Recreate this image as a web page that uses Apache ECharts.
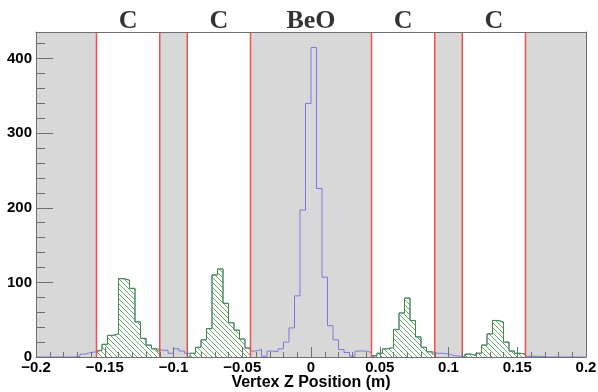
<!DOCTYPE html>
<html>
<head>
<meta charset="utf-8">
<script src="https://cdn.jsdelivr.net/npm/echarts@6/dist/echarts.min.js"></script>
<style>
  html, body { margin: 0; padding: 0; background: #fff; }
  #chart { width: 598px; height: 392px; }
</style>
</head>
<body>
<div id="chart"></div>
<script>
// Histogram binning: 100 bins of 4 mm covering -0.2 m .. 0.2 m
const binLow = -0.2;
const binWidth = 0.004;

// All reconstructed vertices, counts per bin (bin 0 starts at -0.2 m)
const allCounts = [
  0, 0, 0, 0, 0, 0, 0, 1, 4, 6,
  7, 9, 17, 29, 31, 105, 103, 92, 47, 25,
  16, 11, 9, 9, 5, 11, 8, 5, 5, 13,
  23, 38, 110, 118, 72, 46, 36, 24, 12, 8,
  10, 1, 8, 7, 11, 20, 39, 82, 197, 340,
  415, 226, 107, 42, 23, 10, 6, 1, 8, 8,
  6, 2, 5, 11, 13, 37, 59, 79, 49, 27,
  13, 7, 5, 5, 4, 2, 1, 1, 4, 2,
  5, 16, 31, 49, 47, 20, 8, 5, 4, 1,
  1, 1, 0, 0, 0, 0, 0, 0, 0, 0
];

// Vertices inside each carbon target, counts per bin
const carbon1Counts = [9, 17, 29, 31, 105, 103, 92, 47, 25, 16, 11, 8];
const carbon2Counts = [0, 5, 13, 23, 38, 110, 118, 72, 46, 36, 24, 12];
const carbon3Counts = [2, 5, 11, 13, 37, 59, 79, 49, 27, 13, 7, 4];
const carbon4Counts = [0, 4, 2, 5, 16, 31, 49, 47, 20, 8, 5, 4];
// index of the first bin of each carbon histogram
const carbonFirstBin = [11, 27, 61, 77];

// Target extents along z (m)
const carbonTargets = [[-0.156, -0.110], [-0.090, -0.044], [0.044, 0.090], [0.110, 0.156]];
const beoTarget = [-0.044, 0.044];
const carbonLabel = 'C';
const beoLabel = 'BeO';

// Axis ticks and labels
const xTickValues = [-0.2, -0.15, -0.1, -0.05, 0, 0.05, 0.1, 0.15, 0.2];
const xTickLabels = ['\u22120.2', '\u22120.15', '\u22120.1', '\u22120.05', '0', '0.05', '0.1', '0.15', '0.2'];
const yTickValues = [0, 100, 200, 300, 400];
const yMinorValues = [20, 40, 60, 80, 120, 140, 160, 180, 220, 240, 260, 280, 320, 340, 360, 380, 420];
const xTitle = 'Vertex Z Position (m)';

const r6 = v => Math.round(v * 1e6) / 1e6;
const binEdge = i => r6(binLow + i * binWidth);
const xHigh = binEdge(allCounts.length);

// step outline of the full histogram
function fullOutline(counts) {
  const pts = [[binEdge(0), 0]];
  counts.forEach((c, i) => pts.push([binEdge(i), c]));
  pts.push([xHigh, counts[counts.length - 1]]);
  pts.push([xHigh, 0]);
  return pts;
}

// step outline of a target histogram, cut at the target edges
function targetOutline(counts, first, range) {
  const [a, b] = range;
  const pts = [[a, 0]];
  counts.forEach((c, j) => pts.push([Math.max(binEdge(first + j), a), c]));
  pts.push([b, counts[counts.length - 1]]);
  pts.push([b, 0]);
  return pts;
}

// diagonal hatch fill
function hatchPattern(color, size) {
  const c = document.createElement('canvas');
  c.width = size; c.height = size;
  const g = c.getContext('2d');
  g.strokeStyle = color;
  g.lineWidth = 1;
  g.beginPath();
  g.moveTo(-1, -1); g.lineTo(size + 1, size + 1);
  g.moveTo(-1, size - 1); g.lineTo(1, size + 1);
  g.moveTo(size - 1, -1); g.lineTo(size + 1, 1);
  g.stroke();
  return c;
}

const gray = '#d8d8d8';
const frameColor = '#6f6f6f';
const sans = 'Liberation Sans, Arial, sans-serif';
const serif = 'Liberation Serif, Times New Roman, serif';
const yMax = Math.max(...allCounts) * 1.05;

const series = [];

// shaded gaps outside the targets
const edges = [binLow, carbonTargets[0][0], carbonTargets[0][1], carbonTargets[1][0],
  carbonTargets[1][1], carbonTargets[2][0], carbonTargets[2][1], carbonTargets[3][0],
  carbonTargets[3][1], xHigh];
const gaps = [];
for (let i = 0; i < edges.length - 1; i += 2) gaps.push([edges[i], edges[i + 1]]);
series.push({
  type: 'custom', silent: true, z: 1, clip: true,
  data: gaps,
  encode: { x: [0, 1] },
  renderItem: (params, api) => {
    const p0 = api.coord([api.value(0), yMax]);
    const p1 = api.coord([api.value(1), 0]);
    return { type: 'rect', shape: { x: p0[0], y: p0[1], width: p1[0] - p0[0], height: p1[1] - p0[1] },
      style: { fill: gray } };
  }
});

// all vertices
series.push({
  type: 'line', data: fullOutline(allCounts), step: 'end', showSymbol: false, silent: true,
  lineStyle: { color: '#7a7ade', width: 1 }, z: 2
});

// vertices inside the carbon targets
const carbonSets = [carbon1Counts, carbon2Counts, carbon3Counts, carbon4Counts];
const hatch = hatchPattern('#6aaa6a', 5);
carbonSets.forEach((counts, k) => {
  series.push({
    type: 'line', step: 'end', showSymbol: false, silent: true,
    data: targetOutline(counts, carbonFirstBin[k], carbonTargets[k]),
    lineStyle: { color: '#3f8f3f', width: 1 },
    areaStyle: { color: { image: hatch, repeat: 'repeat' }, opacity: 1 },
    z: 3
  });
});

// target boundaries
const boundaries = [];
carbonTargets.forEach(t => boundaries.push([t[0]], [t[1]]));
series.push({
  type: 'custom', silent: true, z: 4,
  data: boundaries,
  encode: { x: 0 },
  renderItem: (params, api) => {
    const top = api.coord([api.value(0), yMax]);
    const bottom = api.coord([api.value(0), 0]);
    return { type: 'line', shape: { x1: top[0], y1: top[1], x2: bottom[0], y2: bottom[1] },
      style: { stroke: '#f45050', lineWidth: 1.5 } };
  }
});

// target names above the frame
const nameData = carbonTargets.map(t => ({ value: [r6((t[0] + t[1]) / 2), yMax], name: carbonLabel }));
nameData.splice(2, 0, { value: [r6((beoTarget[0] + beoTarget[1]) / 2), yMax], name: beoLabel });
series.push({
  type: 'scatter', silent: true, symbolSize: 0, clip: false, z: 5,
  data: nameData,
  label: {
    show: true, position: 'top', distance: -2, formatter: p => p.name, color: '#000',
    fontFamily: serif, fontWeight: 'bold', fontSize: 26
  }
});

const chart = echarts.init(document.getElementById('chart'), null, { renderer: 'canvas' });
chart.setOption({
  animation: false,
  backgroundColor: '#fff',
  grid: { left: 36, right: 12, top: 32, bottom: 35, outerBoundsMode: 'none', containLabel: false },
  xAxis: [{
    type: 'value', min: binLow, max: xHigh, interval: 0.05, z: 10,
    axisLine: { show: true, onZero: false, lineStyle: { color: frameColor, width: 1 } },
    axisTick: { show: true, inside: true, length: 10, lineStyle: { color: frameColor } },
    minorTick: { show: true, splitNumber: 5, length: 5, lineStyle: { color: frameColor } },
    splitLine: { show: false },
    axisLabel: {
      margin: 3, color: '#000', fontFamily: sans, fontWeight: 'bold', fontSize: 15,
      formatter: v => {
        const i = xTickValues.findIndex(t => Math.abs(t - v) < 1e-9);
        return i < 0 ? '' : xTickLabels[i];
      }
    },
    name: xTitle, nameLocation: 'middle', nameGap: 18, nameMoveOverlap: false,
    nameTextStyle: { color: '#000', fontFamily: sans, fontWeight: 'bold', fontSize: 16 }
  }, {
    type: 'value', position: 'top', min: binLow, max: xHigh, z: 10,
    axisLine: { show: true, onZero: false, lineStyle: { color: frameColor, width: 1 } },
    axisTick: { show: false }, axisLabel: { show: false }, splitLine: { show: false }
  }],
  yAxis: [{
    type: 'value', min: 0, max: yMax, position: 'left', z: 10,
    axisLine: { show: true, onZero: false, lineStyle: { color: frameColor, width: 1 } },
    axisTick: { show: true, inside: true, length: 17, customValues: yTickValues, lineStyle: { color: frameColor } },
    axisLabel: {
      customValues: yTickValues, margin: 4, color: '#000',
      fontFamily: sans, fontWeight: 'bold', fontSize: 15
    },
    splitLine: { show: false }
  }, {
    type: 'value', min: 0, max: yMax, position: 'left', z: 10,
    axisLine: { show: false, onZero: false },
    axisTick: { show: true, inside: true, length: 9, customValues: yMinorValues, lineStyle: { color: frameColor } },
    axisLabel: { show: false }, splitLine: { show: false }
  }, {
    type: 'value', min: 0, max: yMax, position: 'right', z: 10,
    axisLine: { show: true, onZero: false, lineStyle: { color: frameColor, width: 1 } },
    axisTick: { show: false }, axisLabel: { show: false }, splitLine: { show: false }
  }],
  series: series
});
</script>
</body>
</html>
